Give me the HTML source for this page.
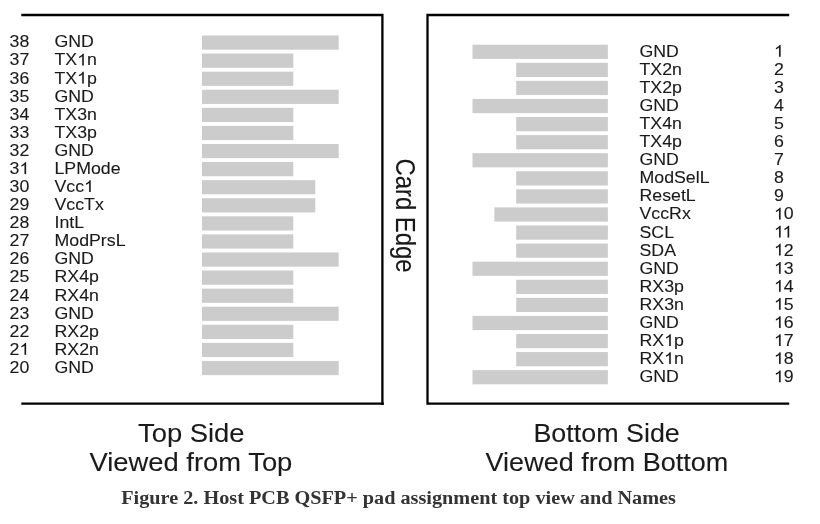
<!DOCTYPE html>
<html><head><meta charset="utf-8"><style>
html,body{position:relative;margin:0;padding:0;background:#fff;width:820px;height:524px;overflow:hidden}
svg{display:block;will-change:transform}
text{font-family:"Liberation Sans",sans-serif;fill:#1a1a1a;stroke:#1a1a1a;stroke-width:0.1px}
.bl{width:820px;height:524px}
.g1{fill:#1a1a1a;stroke:#1a1a1a;stroke-width:12px}
</style></head><body>
<div class="bl"><svg width="820" height="524" viewBox="0 0 820 524">

<path d="M21.3 15 H382.4 V404.9" fill="none" stroke="#000" stroke-width="2.3"/>
<path d="M21.3 403.6 H383.8" fill="none" stroke="#000" stroke-width="2.3"/>
<path d="M789.2 15 H427.5 V403.6 H789.2" fill="none" stroke="#000" stroke-width="2.3"/>

<rect x="202" y="35.50" width="136.70" height="14.2" fill="#cccccc"/><text transform="translate(9.60,47.40) scale(1.09,1)" font-size="16.3">38</text><text transform="translate(54.50,47.40) scale(1.09,1)" font-size="16.3">GND</text><rect x="202" y="53.58" width="91.30" height="14.2" fill="#cccccc"/><text transform="translate(9.60,65.48) scale(1.09,1)" font-size="16.3">37</text><g transform="translate(54.50,65.48) scale(1.09,1)"><text font-size="16.3">TX n</text><path transform="translate(20.794,0) scale(0.007959,-0.007959)" d="M763 0H583V1147Q518 1085 412.5 1023T223 930V1104Q375 1175 489 1276T650 1472H763V0Z" class="g1"/></g><rect x="202" y="71.66" width="91.30" height="14.2" fill="#cccccc"/><text transform="translate(9.60,83.56) scale(1.09,1)" font-size="16.3">36</text><g transform="translate(54.50,83.56) scale(1.09,1)"><text font-size="16.3">TX p</text><path transform="translate(20.794,0) scale(0.007959,-0.007959)" d="M763 0H583V1147Q518 1085 412.5 1023T223 930V1104Q375 1175 489 1276T650 1472H763V0Z" class="g1"/></g><rect x="202" y="89.74" width="136.70" height="14.2" fill="#cccccc"/><text transform="translate(9.60,101.64) scale(1.09,1)" font-size="16.3">35</text><text transform="translate(54.50,101.64) scale(1.09,1)" font-size="16.3">GND</text><rect x="202" y="107.82" width="91.30" height="14.2" fill="#cccccc"/><text transform="translate(9.60,119.72) scale(1.09,1)" font-size="16.3">34</text><text transform="translate(54.50,119.72) scale(1.09,1)" font-size="16.3">TX3n</text><rect x="202" y="125.90" width="91.30" height="14.2" fill="#cccccc"/><text transform="translate(9.60,137.80) scale(1.09,1)" font-size="16.3">33</text><text transform="translate(54.50,137.80) scale(1.09,1)" font-size="16.3">TX3p</text><rect x="202" y="143.98" width="136.70" height="14.2" fill="#cccccc"/><text transform="translate(9.60,155.88) scale(1.09,1)" font-size="16.3">32</text><text transform="translate(54.50,155.88) scale(1.09,1)" font-size="16.3">GND</text><rect x="202" y="162.06" width="91.30" height="14.2" fill="#cccccc"/><g transform="translate(9.60,173.96) scale(1.09,1)"><text font-size="16.3">3 </text><path transform="translate(9.053,0) scale(0.007959,-0.007959)" d="M763 0H583V1147Q518 1085 412.5 1023T223 930V1104Q375 1175 489 1276T650 1472H763V0Z" class="g1"/></g><text transform="translate(54.50,173.96) scale(1.09,1)" font-size="16.3">LPMode</text><rect x="202" y="180.14" width="113.30" height="14.2" fill="#cccccc"/><text transform="translate(9.60,192.04) scale(1.09,1)" font-size="16.3">30</text><g transform="translate(54.50,192.04) scale(1.09,1)"><text font-size="16.3">Vcc </text><path transform="translate(27.143,0) scale(0.007959,-0.007959)" d="M763 0H583V1147Q518 1085 412.5 1023T223 930V1104Q375 1175 489 1276T650 1472H763V0Z" class="g1"/></g><rect x="202" y="198.22" width="113.30" height="14.2" fill="#cccccc"/><text transform="translate(9.60,210.12) scale(1.09,1)" font-size="16.3">29</text><text transform="translate(54.50,210.12) scale(1.09,1)" font-size="16.3">VccTx</text><rect x="202" y="216.30" width="91.30" height="14.2" fill="#cccccc"/><text transform="translate(9.60,228.20) scale(1.09,1)" font-size="16.3">28</text><text transform="translate(54.50,228.20) scale(1.09,1)" font-size="16.3">IntL</text><rect x="202" y="234.38" width="91.30" height="14.2" fill="#cccccc"/><text transform="translate(9.60,246.28) scale(1.09,1)" font-size="16.3">27</text><text transform="translate(54.50,246.28) scale(1.09,1)" font-size="16.3">ModPrsL</text><rect x="202" y="252.46" width="136.70" height="14.2" fill="#cccccc"/><text transform="translate(9.60,264.36) scale(1.09,1)" font-size="16.3">26</text><text transform="translate(54.50,264.36) scale(1.09,1)" font-size="16.3">GND</text><rect x="202" y="270.54" width="91.30" height="14.2" fill="#cccccc"/><text transform="translate(9.60,282.44) scale(1.09,1)" font-size="16.3">25</text><text transform="translate(54.50,282.44) scale(1.09,1)" font-size="16.3">RX4p</text><rect x="202" y="288.62" width="91.30" height="14.2" fill="#cccccc"/><text transform="translate(9.60,300.52) scale(1.09,1)" font-size="16.3">24</text><text transform="translate(54.50,300.52) scale(1.09,1)" font-size="16.3">RX4n</text><rect x="202" y="306.70" width="136.70" height="14.2" fill="#cccccc"/><text transform="translate(9.60,318.60) scale(1.09,1)" font-size="16.3">23</text><text transform="translate(54.50,318.60) scale(1.09,1)" font-size="16.3">GND</text><rect x="202" y="324.78" width="91.30" height="14.2" fill="#cccccc"/><text transform="translate(9.60,336.68) scale(1.09,1)" font-size="16.3">22</text><text transform="translate(54.50,336.68) scale(1.09,1)" font-size="16.3">RX2p</text><rect x="202" y="342.86" width="91.30" height="14.2" fill="#cccccc"/><g transform="translate(9.60,354.76) scale(1.09,1)"><text font-size="16.3">2 </text><path transform="translate(9.053,0) scale(0.007959,-0.007959)" d="M763 0H583V1147Q518 1085 412.5 1023T223 930V1104Q375 1175 489 1276T650 1472H763V0Z" class="g1"/></g><text transform="translate(54.50,354.76) scale(1.09,1)" font-size="16.3">RX2n</text><rect x="202" y="360.94" width="136.70" height="14.2" fill="#cccccc"/><text transform="translate(9.60,372.84) scale(1.09,1)" font-size="16.3">20</text><text transform="translate(54.50,372.84) scale(1.09,1)" font-size="16.3">GND</text><rect x="472.5" y="44.70" width="135.40" height="14.2" fill="#cccccc"/><text transform="translate(639.50,56.70) scale(1.09,1)" font-size="16.3">GND</text><g transform="translate(774.00,56.70) scale(1.09,1)"><text font-size="16.3"> </text><path transform="translate(0.000,0) scale(0.007959,-0.007959)" d="M763 0H583V1147Q518 1085 412.5 1023T223 930V1104Q375 1175 489 1276T650 1472H763V0Z" class="g1"/></g><rect x="516.2" y="62.78" width="91.70" height="14.2" fill="#cccccc"/><text transform="translate(639.50,74.78) scale(1.09,1)" font-size="16.3">TX2n</text><text transform="translate(774.00,74.78) scale(1.09,1)" font-size="16.3">2</text><rect x="516.2" y="80.86" width="91.70" height="14.2" fill="#cccccc"/><text transform="translate(639.50,92.86) scale(1.09,1)" font-size="16.3">TX2p</text><text transform="translate(774.00,92.86) scale(1.09,1)" font-size="16.3">3</text><rect x="472.5" y="98.94" width="135.40" height="14.2" fill="#cccccc"/><text transform="translate(639.50,110.94) scale(1.09,1)" font-size="16.3">GND</text><text transform="translate(774.00,110.94) scale(1.09,1)" font-size="16.3">4</text><rect x="516.2" y="117.02" width="91.70" height="14.2" fill="#cccccc"/><text transform="translate(639.50,129.02) scale(1.09,1)" font-size="16.3">TX4n</text><text transform="translate(774.00,129.02) scale(1.09,1)" font-size="16.3">5</text><rect x="516.2" y="135.10" width="91.70" height="14.2" fill="#cccccc"/><text transform="translate(639.50,147.10) scale(1.09,1)" font-size="16.3">TX4p</text><text transform="translate(774.00,147.10) scale(1.09,1)" font-size="16.3">6</text><rect x="472.5" y="153.18" width="135.40" height="14.2" fill="#cccccc"/><text transform="translate(639.50,165.18) scale(1.09,1)" font-size="16.3">GND</text><text transform="translate(774.00,165.18) scale(1.09,1)" font-size="16.3">7</text><rect x="516.2" y="171.26" width="91.70" height="14.2" fill="#cccccc"/><text transform="translate(639.50,183.26) scale(1.09,1)" font-size="16.3">ModSelL</text><text transform="translate(774.00,183.26) scale(1.09,1)" font-size="16.3">8</text><rect x="516.2" y="189.34" width="91.70" height="14.2" fill="#cccccc"/><text transform="translate(639.50,201.34) scale(1.09,1)" font-size="16.3">ResetL</text><text transform="translate(774.00,201.34) scale(1.09,1)" font-size="16.3">9</text><rect x="494.4" y="207.42" width="113.50" height="14.2" fill="#cccccc"/><text transform="translate(639.50,219.42) scale(1.09,1)" font-size="16.3">VccRx</text><g transform="translate(774.00,219.42) scale(1.09,1)"><text font-size="16.3"> 0</text><path transform="translate(0.000,0) scale(0.007959,-0.007959)" d="M763 0H583V1147Q518 1085 412.5 1023T223 930V1104Q375 1175 489 1276T650 1472H763V0Z" class="g1"/></g><rect x="516.2" y="225.50" width="91.70" height="14.2" fill="#cccccc"/><text transform="translate(639.50,237.50) scale(1.09,1)" font-size="16.3">SCL</text><g transform="translate(774.00,237.50) scale(1.09,1)"><text font-size="16.3">  </text><path transform="translate(0.000,0) scale(0.007959,-0.007959)" d="M763 0H583V1147Q518 1085 412.5 1023T223 930V1104Q375 1175 489 1276T650 1472H763V0Z" class="g1"/><path transform="translate(7.843,0) scale(0.007959,-0.007959)" d="M763 0H583V1147Q518 1085 412.5 1023T223 930V1104Q375 1175 489 1276T650 1472H763V0Z" class="g1"/></g><rect x="516.2" y="243.58" width="91.70" height="14.2" fill="#cccccc"/><text transform="translate(639.50,255.58) scale(1.09,1)" font-size="16.3">SDA</text><g transform="translate(774.00,255.58) scale(1.09,1)"><text font-size="16.3"> 2</text><path transform="translate(0.000,0) scale(0.007959,-0.007959)" d="M763 0H583V1147Q518 1085 412.5 1023T223 930V1104Q375 1175 489 1276T650 1472H763V0Z" class="g1"/></g><rect x="472.5" y="261.66" width="135.40" height="14.2" fill="#cccccc"/><text transform="translate(639.50,273.66) scale(1.09,1)" font-size="16.3">GND</text><g transform="translate(774.00,273.66) scale(1.09,1)"><text font-size="16.3"> 3</text><path transform="translate(0.000,0) scale(0.007959,-0.007959)" d="M763 0H583V1147Q518 1085 412.5 1023T223 930V1104Q375 1175 489 1276T650 1472H763V0Z" class="g1"/></g><rect x="516.2" y="279.74" width="91.70" height="14.2" fill="#cccccc"/><text transform="translate(639.50,291.74) scale(1.09,1)" font-size="16.3">RX3p</text><g transform="translate(774.00,291.74) scale(1.09,1)"><text font-size="16.3"> 4</text><path transform="translate(0.000,0) scale(0.007959,-0.007959)" d="M763 0H583V1147Q518 1085 412.5 1023T223 930V1104Q375 1175 489 1276T650 1472H763V0Z" class="g1"/></g><rect x="516.2" y="297.82" width="91.70" height="14.2" fill="#cccccc"/><text transform="translate(639.50,309.82) scale(1.09,1)" font-size="16.3">RX3n</text><g transform="translate(774.00,309.82) scale(1.09,1)"><text font-size="16.3"> 5</text><path transform="translate(0.000,0) scale(0.007959,-0.007959)" d="M763 0H583V1147Q518 1085 412.5 1023T223 930V1104Q375 1175 489 1276T650 1472H763V0Z" class="g1"/></g><rect x="472.5" y="315.90" width="135.40" height="14.2" fill="#cccccc"/><text transform="translate(639.50,327.90) scale(1.09,1)" font-size="16.3">GND</text><g transform="translate(774.00,327.90) scale(1.09,1)"><text font-size="16.3"> 6</text><path transform="translate(0.000,0) scale(0.007959,-0.007959)" d="M763 0H583V1147Q518 1085 412.5 1023T223 930V1104Q375 1175 489 1276T650 1472H763V0Z" class="g1"/></g><rect x="516.2" y="333.98" width="91.70" height="14.2" fill="#cccccc"/><g transform="translate(639.50,345.98) scale(1.09,1)"><text font-size="16.3">RX p</text><path transform="translate(22.617,0) scale(0.007959,-0.007959)" d="M763 0H583V1147Q518 1085 412.5 1023T223 930V1104Q375 1175 489 1276T650 1472H763V0Z" class="g1"/></g><g transform="translate(774.00,345.98) scale(1.09,1)"><text font-size="16.3"> 7</text><path transform="translate(0.000,0) scale(0.007959,-0.007959)" d="M763 0H583V1147Q518 1085 412.5 1023T223 930V1104Q375 1175 489 1276T650 1472H763V0Z" class="g1"/></g><rect x="516.2" y="352.06" width="91.70" height="14.2" fill="#cccccc"/><g transform="translate(639.50,364.06) scale(1.09,1)"><text font-size="16.3">RX n</text><path transform="translate(22.617,0) scale(0.007959,-0.007959)" d="M763 0H583V1147Q518 1085 412.5 1023T223 930V1104Q375 1175 489 1276T650 1472H763V0Z" class="g1"/></g><g transform="translate(774.00,364.06) scale(1.09,1)"><text font-size="16.3"> 8</text><path transform="translate(0.000,0) scale(0.007959,-0.007959)" d="M763 0H583V1147Q518 1085 412.5 1023T223 930V1104Q375 1175 489 1276T650 1472H763V0Z" class="g1"/></g><rect x="472.5" y="370.14" width="135.40" height="14.2" fill="#cccccc"/><text transform="translate(639.50,382.14) scale(1.09,1)" font-size="16.3">GND</text><g transform="translate(774.00,382.14) scale(1.09,1)"><text font-size="16.3"> 9</text><path transform="translate(0.000,0) scale(0.007959,-0.007959)" d="M763 0H583V1147Q518 1085 412.5 1023T223 930V1104Q375 1175 489 1276T650 1472H763V0Z" class="g1"/></g>
<text transform="translate(396.2,158.4) rotate(90) scale(1,1.17)" font-size="23.9">Card Edge</text>
<text transform="translate(138.00,442.00) scale(1.0959,1)" font-size="25">Top Side</text><text transform="translate(89.50,470.60) scale(1.0951,1)" font-size="25">Viewed from Top</text><text transform="translate(533.45,442.00) scale(1.0752,1)" font-size="25">Bottom Side</text><text transform="translate(485.60,470.60) scale(1.0803,1)" font-size="25">Viewed from Bottom</text>
</svg></div>
<svg style="position:absolute;left:0;top:0;will-change:auto" width="820" height="524"><text transform="translate(121.2,503.8) scale(1.0653,1)" style="font-family:'Liberation Serif',serif;font-weight:bold;fill:#333;stroke:none" font-size="19">Figure 2. Host PCB QSFP+ pad assignment top view and Names</text></svg>
</body></html>
